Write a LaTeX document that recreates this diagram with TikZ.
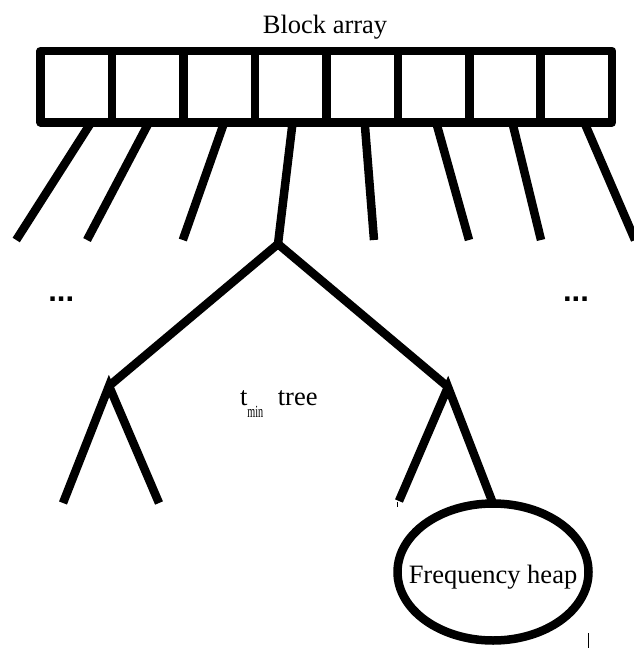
\documentclass[tikz,border=0pt]{standalone}
\usepackage{graphicx}
\usepackage{fontspec}
\setmainfont{Liberation Serif}
\newfontfamily\dotsfont{Liberation Sans}
\usetikzlibrary{shapes.geometric}
\begin{document}
\begin{tikzpicture}[x=1pt,y=-1pt,
  edge/.style={line width=8.5pt, line cap=butt, line join=miter},
  cell/.style={draw, line width=8.5pt, line join=round, minimum width=71.46pt, minimum height=71.3pt, inner sep=0pt, outer sep=0pt},
  heap/.style={draw, ellipse, line width=8.5pt, minimum width=191pt, minimum height=137pt, inner sep=0pt, outer sep=0pt},
  lbl/.style={font=\fontsize{26.5}{30}\selectfont, inner sep=0pt, outer sep=0pt},
  more/.style={font=\dotsfont\bfseries\fontsize{31}{34}\selectfont, inner sep=0pt, outer sep=0pt},
  tick/.style={line width=0.8pt}]
\useasboundingbox (0,0) rectangle (634,648);

% title
\node[lbl, anchor=base] (title) at (325,33.5) {Block array};

% block array cells
\foreach \i in {1,...,8}
  \node[cell] (cell\i) at ({40.5+71.46*(\i-0.5)}, 86.65) {};

% tree points
\coordinate (e1) at (16.2,240);
\coordinate (e2) at (87,240);
\coordinate (e3) at (182.8,240);
\coordinate (root) at (278,244);
\coordinate (e5) at (374,240);
\coordinate (e6) at (469,240);
\coordinate (e7) at (541,240);
\coordinate (e8) at (635,240);
\coordinate (lc) at (109,386);
\coordinate (rc) at (448,387);
\coordinate (l1) at (63,503);
\coordinate (l2) at (159,503);
\coordinate (r1) at (399,501);

% frequency heap
\node[heap] (heap) at (493,572) {};
\node[lbl, anchor=base] (heaplabel) at (493,583) {Frequency heap};

% connectors from the array
\draw[edge] ([xshift=15pt]cell1.south) -- (e1);
\draw[edge] ([xshift=1.3pt]cell2.south) -- (e2);
\draw[edge] ([xshift=5.1pt]cell3.south) -- (e3);
\draw[edge] ([xshift=2pt]cell4.south) -- (root);
\draw[edge] ([xshift=2.6pt]cell5.south) -- (e5);
\draw[edge] ([xshift=2.6pt]cell6.south) -- (e6);
\draw[edge] ([xshift=7.3pt]cell7.south) -- (e7);
\draw[edge] ([xshift=7.8pt]cell8.south) -- (e8);

% tree
\draw[edge] (lc) -- (root) -- (rc);
\draw[edge] (l1) -- (lc) -- (l2);
\draw[edge] (r1) -- (rc) -- (heap.north);

% labels
\node[more, anchor=base west] (dotsl) at (48.3,301) {...};
\node[more, anchor=base west] (dotsr) at (563.1,301) {...};
\node[lbl, anchor=base west] (tmin) at (240,405.5) {t\raisebox{-11.5pt}{\scalebox{0.6}[1]{\fontsize{17}{20}\selectfont min}}\hspace{14.6pt}tree};

% small marks
\coordinate (t1) at (397.3,507);
\coordinate (t2a) at (588.3,633);
\coordinate (t2b) at (588.3,648);
\draw[tick] ([xshift=-1.7pt,yshift=-1pt]r1) -- (t1);
\draw[tick] (t2a) -- (t2b);
\end{tikzpicture}
\end{document}
